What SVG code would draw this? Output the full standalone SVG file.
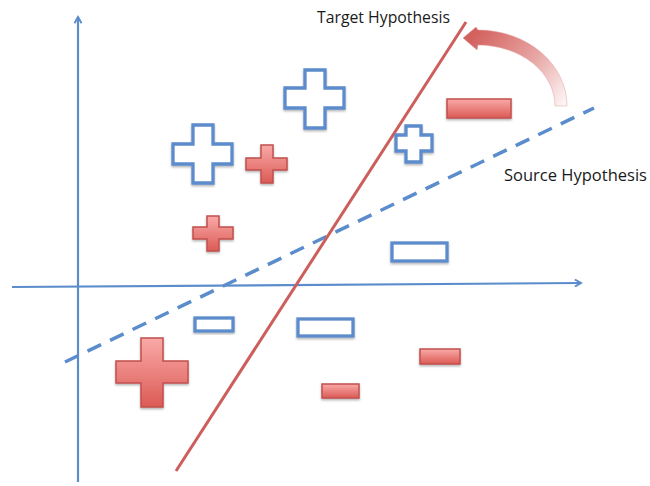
<svg xmlns="http://www.w3.org/2000/svg" width="650" height="486" viewBox="0 0 650 486">
<defs>
<linearGradient id="redFill" x1="0" y1="0" x2="0" y2="1">
<stop offset="0" stop-color="#f9aaa8"/>
<stop offset="1" stop-color="#dc5a55"/>
</linearGradient>
<linearGradient id="arcFill" gradientUnits="userSpaceOnUse" x1="470" y1="40" x2="562" y2="108">
<stop offset="0" stop-color="#d3615e"/>
<stop offset="0.55" stop-color="#e7a6a4"/>
<stop offset="1" stop-color="#fdf6f6"/>
</linearGradient>
<filter id="sh" x="-20%" y="-20%" width="140%" height="150%">
<feDropShadow dx="0" dy="1.5" stdDeviation="1.2" flood-color="#000" flood-opacity="0.3"/>
</filter>
<marker id="ah" viewBox="0 0 10 10" refX="8" refY="5" markerWidth="4" markerHeight="4" orient="auto" markerUnits="strokeWidth">
<path d="M1,1 L8,5 L1,9" fill="none" stroke="#5b8ccb" stroke-width="2.2" stroke-linejoin="miter"/>
</marker>
<style>
.axis{stroke:#5b8ccb;stroke-width:2.2;fill:none}
.bplus,.bminus{fill:#fff;stroke:#5b8ccb;stroke-width:3.3;stroke-linejoin:miter}
.rplus,.rminus{fill:url(#redFill);stroke:#c0504d;stroke-width:1.5}
.lbl{font-family:"Open Sans","Liberation Sans",sans-serif;font-size:15.5px;fill:#1a1a1a}
</style>
</defs>

<g id="connectors">
<line class="axis" x1="78" y1="482" x2="78" y2="17" marker-end="url(#ah)"/>
<line class="axis" x1="12" y1="287" x2="581" y2="283" marker-end="url(#ah)"/>
<line id="source-hypothesis" x1="65" y1="362" x2="594" y2="108" stroke="#5b8ccb" stroke-width="3.5" stroke-dasharray="15,10"/>
<line id="target-hypothesis" x1="176" y1="471" x2="466" y2="22" stroke="#cc5f5b" stroke-width="3"/>
<path id="shift-arrow" d="M567,106 A89,76 0 0 0 478,30 L476,27 L463,38 L477,50 L478,45 A77,61 0 0 1 555,106 Z" fill="url(#arcFill)" stroke="#e0a09e" stroke-width="0.5"/>
</g>

<g id="plus-blue-1"><path class="bplus" filter="url(#sh)" d="M305,70 h20 v18 h19 v20 h-19 v20 h-20 v-20 h-20 v-20 h20 Z"/></g>
<g id="plus-blue-2"><path class="bplus" filter="url(#sh)" d="M193,125 h20 v19 h19 v20 h-19 v19 h-20 v-19 h-20 v-20 h20 Z"/></g>
<g id="plus-blue-3"><path class="bplus" filter="url(#sh)" d="M406,126 h15 v9 h11 v16 h-11 v11 h-15 v-11 h-10 v-16 h10 Z"/></g>
<g id="plus-red-1"><path class="rplus" filter="url(#sh)" d="M261,145 h12 v13 h14 v12 h-14 v13 h-12 v-13 h-15 v-12 h15 Z"/></g>
<g id="plus-red-2"><path class="rplus" filter="url(#sh)" d="M207,216 h12 v11 h14 v12 h-14 v12 h-12 v-12 h-14 v-12 h14 Z"/></g>
<g id="plus-red-3"><path class="rplus" filter="url(#sh)" d="M141,338 h22 v23 h25 v22 h-25 v24 h-22 v-24 h-25 v-22 h25 Z"/></g>

<g id="minus-blue-1"><rect class="bminus" filter="url(#sh)" x="195" y="318" width="38" height="13"/></g>
<g id="minus-blue-2"><rect class="bminus" filter="url(#sh)" x="298" y="319" width="55" height="17"/></g>
<g id="minus-blue-3"><rect class="bminus" filter="url(#sh)" x="392" y="243" width="55" height="18"/></g>
<g id="minus-red-1"><rect class="rminus" filter="url(#sh)" x="447" y="99" width="64" height="19"/></g>
<g id="minus-red-2"><rect class="rminus" filter="url(#sh)" x="420" y="349" width="40" height="15"/></g>
<g id="minus-red-3"><rect class="rminus" filter="url(#sh)" x="322" y="384" width="37" height="14"/></g>

<g id="label-target"><text class="lbl" x="317" y="23" textLength="133" lengthAdjust="spacingAndGlyphs">Target Hypothesis</text></g>
<g id="label-source"><text class="lbl" x="504" y="181" textLength="143" lengthAdjust="spacingAndGlyphs">Source Hypothesis</text></g>
</svg>
